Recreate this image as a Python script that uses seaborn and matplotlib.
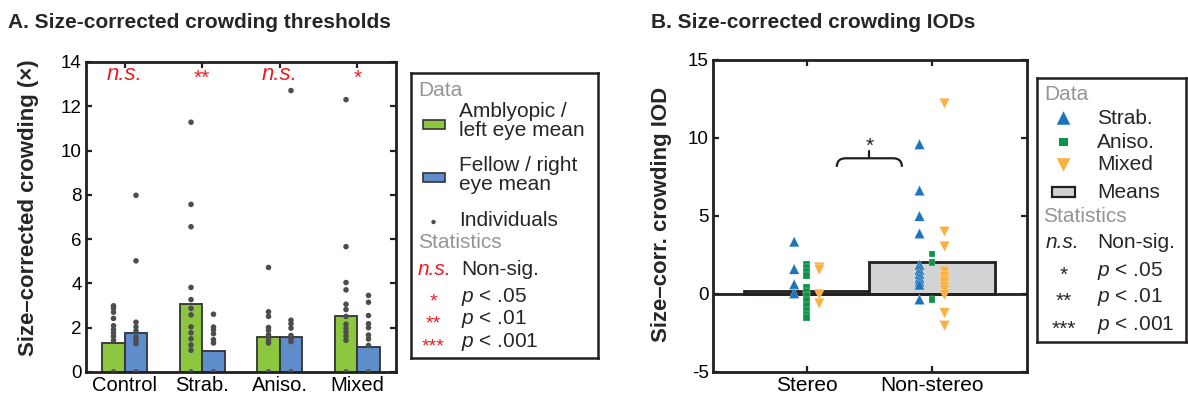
import numpy as np
import pandas as pd
import matplotlib
matplotlib.use("Agg")
import matplotlib.pyplot as plt
from matplotlib.patches import Rectangle, PathPatch
from matplotlib.path import Path
import seaborn as sns

# ---------------- data: panel A (size-corrected crowding thresholds) ----------------
groups = ["Control", "Strab.", "Aniso.", "Mixed"]
eyes = ["Amblyopic", "Fellow"]
amblyopic_means = [1.31, 3.06, 1.56, 2.55]
fellow_means = [1.74, 0.96, 1.58, 1.11]
sig_labels = ["n.s.", "**", "n.s.", "*"]

amblyopic_individuals = {
    "Control": [2.99, 2.88, 2.70, 2.42, 2.09, 1.91, 1.76, 1.61, 1.43, 0.0],
    "Strab.": [11.28, 7.57, 6.56, 3.82, 3.27, 2.87, 2.58, 2.04, 1.77, 1.50, 1.22, 0.98, 0.0],
    "Aniso.": [4.72, 2.72, 2.51, 2.01, 1.88, 1.68, 1.46, 1.31, 0.0],
    "Mixed": [12.30, 5.66, 4.04, 3.71, 3.06, 2.82, 2.51, 2.16, 1.97, 1.80, 1.61, 1.43, 0.0],
}
fellow_individuals = {
    "Control": [7.98, 5.02, 2.25, 2.04, 1.86, 1.58, 1.46, 1.28, 0.0],
    "Strab.": [2.61, 2.03, 1.91, 1.73, 1.46, 1.31, 0.0],
    "Aniso.": [12.71, 2.34, 2.18, 1.98, 1.65, 1.49, 1.37, 0.0],
    "Mixed": [3.46, 3.15, 2.55, 2.18, 2.00, 1.67, 1.49, 1.20, 0.0],
}

# ---------------- data: panel B (size-corrected crowding IODs) ----------------
conditions = ["Stereo", "Non-stereo"]
iod_means = [0.2, 2.06]
amblyopia_types = ["Strab.", "Aniso.", "Mixed"]
iod_individuals = {
    ("Stereo", "Strab."): [3.35, 1.60, 0.62, 0.04],
    ("Stereo", "Aniso."): [1.92, 1.68, 1.44, 1.20, 0.40, 0.15, -0.10, -0.40, -0.75, -1.05, -1.30, -1.50],
    ("Stereo", "Mixed"): [1.70, 1.55, -0.02, -0.60],
    ("Non-stereo", "Strab."): [9.60, 6.63, 5.00, 3.88, 1.87, 1.55, 1.29, 1.02, 0.80, 0.59, -0.35],
    ("Non-stereo", "Aniso."): [2.57, 2.02, -0.37],
    ("Non-stereo", "Mixed"): [12.22, 4.00, 3.05, 1.44, 1.12, 0.87, 0.70, 0.48, 0.27, -0.05, -1.22, -2.03],
}

# ---------------- style ----------------
GREEN = "#8DC63F"
BLUE = "#5F8DCC"
DOT = "#4D4D4D"
RED = "#ED1C24"
INK = "#231F20"
GRAY_TXT = "#939598"
TYPE_COLORS = {"Strab.": "#1C75BC", "Aniso.": "#0A9447", "Mixed": "#FBB040"}
TYPE_MARKERS = {"Strab.": "^", "Aniso.": "s", "Mixed": "v"}
TYPE_SIZES = {"Strab.": 55, "Aniso.": 24, "Mixed": 55}
LEGEND_SIZES = {"Strab.": 95, "Aniso.": 34, "Mixed": 95}

sns.set_style("ticks")
plt.rcParams["font.family"] = ["Liberation Sans", "DejaVu Sans"]
plt.rcParams["mathtext.fontset"] = "custom"
plt.rcParams["mathtext.it"] = "Liberation Sans:italic"
plt.rcParams["mathtext.rm"] = "Liberation Sans"
plt.rcParams["axes.unicode_minus"] = False

W, H = 1188, 399
fig = plt.figure(figsize=(W / 100, H / 100), dpi=100)


def px_axes(x0, y0, x1, y1):
    return fig.add_axes([x0 / W, 1 - y1 / H, (x1 - x0) / W, (y1 - y0) / H])


def style_box(ax, lw=2.0):
    for sp in ax.spines.values():
        sp.set_visible(True)
        sp.set_linewidth(lw)
        sp.set_color(INK)
    ax.tick_params(direction="in", length=4, width=1.6, color=INK,
                   top=True, right=True, labelcolor="black", pad=3)


# ---------------- panel A ----------------
axA = px_axes(86, 62, 396, 372)
bar_width = 0.58
means_df = pd.DataFrame({
    "group": groups * 2,
    "eye": [eyes[0]] * len(groups) + [eyes[1]] * len(groups),
    "mean": amblyopic_means + fellow_means,
})
sns.barplot(data=means_df, x="group", y="mean", hue="eye", order=groups,
            hue_order=eyes, palette=[GREEN, BLUE], width=bar_width,
            edgecolor="#333333", linewidth=1.3, errorbar=None, saturation=1,
            legend=False, ax=axA, zorder=2)

eye_offset = {eyes[0]: -bar_width / 4, eyes[1]: bar_width / 4}
rows = []
for gi, g in enumerate(groups):
    for e, src in ((eyes[0], amblyopic_individuals), (eyes[1], fellow_individuals)):
        for v in src[g]:
            rows.append({"x": gi + eye_offset[e], "value": v})
dots_df = pd.DataFrame(rows)
sns.scatterplot(data=dots_df, x="x", y="value", color=DOT, s=16,
                edgecolor="none", legend=False, ax=axA, zorder=3)

for gi, lab in enumerate(sig_labels):
    italic = lab.startswith("n")
    axA.text(gi, 13.45 if italic else 13.25, lab, ha="center", va="center", color=RED,
             fontsize=16 if italic else 15, style="italic" if italic else "normal")

axA.set_xlim(-0.5, 3.5)
axA.set_ylim(0, 14)
axA.set_yticks(range(0, 15, 2))
axA.set_xticks(range(len(groups)))
axA.set_xticklabels(groups, fontsize=14.5)
axA.tick_params(axis="y", labelsize=13.5)
axA.set_xlabel("")
axA.set_ylabel("")
style_box(axA)

fig.text(8 / W, 1 - 22 / H, "A. Size-corrected crowding thresholds",
         fontsize=15, fontweight="bold", va="center", ha="left")
fig.text(29 / W, 1 - 208 / H, "Size–corrected crowding (×)", rotation=90,
         fontsize=16, fontweight="bold", va="center", ha="center")

# ---------------- panel B ----------------
axB = px_axes(713, 60, 1027, 372)
sns.barplot(x=conditions, y=iod_means, width=1.0, color="#D1D3D4",
            edgecolor=INK, linewidth=2, errorbar=None, saturation=1,
            ax=axB, zorder=2)
axB.axhline(0, color=INK, lw=2, zorder=2.5)

type_offset = {"Strab.": -0.1, "Aniso.": 0.0, "Mixed": 0.1}
rows = []
for ci, c in enumerate(conditions):
    for t in amblyopia_types:
        for v in iod_individuals[(c, t)]:
            rows.append({"x": ci + type_offset[t], "iod": v, "type": t})
iod_df = pd.DataFrame(rows)
sns.scatterplot(data=iod_df, x="x", y="iod", hue="type", style="type", size="type",
                hue_order=amblyopia_types, palette=TYPE_COLORS,
                markers=TYPE_MARKERS, sizes=TYPE_SIZES, edgecolor="#f4f4f4",
                linewidth=0.2, legend=False, ax=axB, zorder=3)

# significance bracket between the two conditions
bx0, bx1, by0, by1 = 0.24, 0.76, 8.15, 8.7
verts = [(bx0, by0), (bx0, by1), (bx0 + 0.07, by1),
         (bx1 - 0.07, by1), (bx1, by1), (bx1, by0)]
codes = [Path.MOVETO, Path.CURVE3, Path.CURVE3, Path.LINETO, Path.CURVE3, Path.CURVE3]
axB.add_patch(PathPatch(Path(verts, codes), fill=False, lw=1.6, ec=INK, zorder=4))
axB.plot([0.5, 0.5], [by1, 9.15], color=INK, lw=1.6, zorder=4)
axB.text(0.5, 9.45, "*", ha="center", va="center", fontsize=15, color=INK)

axB.set_xlim(-0.748, 1.758)
axB.set_ylim(-5, 15)
axB.set_yticks([-5, 0, 5, 10, 15])
axB.set_yticklabels(["-5", "0", "5", "10", "15"])
axB.set_xticks([0, 1])
axB.set_xticklabels(conditions, fontsize=15)
axB.tick_params(axis="y", labelsize=13.5)
axB.set_xlabel("")
axB.set_ylabel("")
style_box(axB)

fig.text(651 / W, 1 - 22 / H, "B. Size-corrected crowding IODs",
         fontsize=15, fontweight="bold", va="center", ha="left")
fig.text(662 / W, 1 - 214 / H, "Size–corr. crowding IOD", rotation=90,
         fontsize=16, fontweight="bold", va="center", ha="center")


# ---------------- legends ----------------
def legend_box(x0, y0, x1, y1):
    lax = fig.add_axes([x0 / W, 1 - y1 / H, (x1 - x0) / W, (y1 - y0) / H])
    lax.set_xlim(x0, x1)
    lax.set_ylim(y1, y0)
    lax.set_xticks([])
    lax.set_yticks([])
    for sp in lax.spines.values():
        sp.set_linewidth(1.8)
        sp.set_color(INK)
    return lax


stat_rows = [("*", r"$\it{p}$ < .05"), ("**", r"$\it{p}$ < .01"), ("***", r"$\it{p}$ < .001")]

# legend for panel A
lA = legend_box(411, 73, 598, 358)
fsA = 15
lA.text(418, 91, "Data", color=GRAY_TXT, fontsize=fsA, va="center")
lA.add_patch(Rectangle((422.7, 120), 22.3, 9, fc=GREEN, ec="#333333", lw=1.2))
lA.text(459, 112, "Amblyopic /", fontsize=fsA, va="center")
lA.text(459, 131, "left eye mean", fontsize=fsA, va="center")
lA.add_patch(Rectangle((422.7, 173.5), 22.3, 9, fc=BLUE, ec="#333333", lw=1.2))
lA.text(459, 166, "Fellow / right", fontsize=fsA, va="center")
lA.text(459, 185, "eye mean", fontsize=fsA, va="center")
lA.scatter([433.5], [222], s=10, color=DOT, edgecolor="none")
lA.text(459, 221, "Individuals", fontsize=fsA, va="center")
lA.text(418, 243, "Statistics", color=GRAY_TXT, fontsize=fsA, va="center")
lA.text(418, 270, "n.s.", color=RED, style="italic", fontsize=fsA, va="center")
lA.text(461.5, 270, "Non-sig.", fontsize=fsA, va="center")
for (stars, txt), yy in zip(stat_rows, [297, 319, 342]):
    lA.text(433.5, yy + 4.5, stars, color=RED, fontsize=14, ha="center", va="center")
    lA.text(461.5, yy, txt, fontsize=fsA, va="center")

# legend for panel B
lB = legend_box(1037, 78, 1186, 342)
fsB = 15
lB.text(1044, 94, "Data", color=GRAY_TXT, fontsize=fsB, va="center")
for t, yy in zip(amblyopia_types, [118, 142, 165]):
    lB.scatter([1063.5], [yy], marker=TYPE_MARKERS[t], s=LEGEND_SIZES[t],
               color=TYPE_COLORS[t], edgecolor="none")
    lB.text(1097, yy, t, fontsize=fsB, va="center")
lB.add_patch(Rectangle((1052, 186.5), 23, 10, fc="#D1D3D4", ec=INK, lw=1.6))
lB.text(1097, 192, "Means", fontsize=fsB, va="center")
lB.text(1043, 217, "Statistics", color=GRAY_TXT, fontsize=fsB, va="center")
lB.text(1046, 243, "n.s.", style="italic", fontsize=fsB, va="center")
lB.text(1097, 243, "Non-sig.", fontsize=fsB, va="center")
for (stars, txt), yy in zip(stat_rows, [271, 297, 325]):
    lB.text(1063.5, yy + 4.5, stars, fontsize=15, ha="center", va="center")
    lB.text(1097, yy, txt, fontsize=fsB, va="center")

fig.savefig("out.png", dpi=100)
